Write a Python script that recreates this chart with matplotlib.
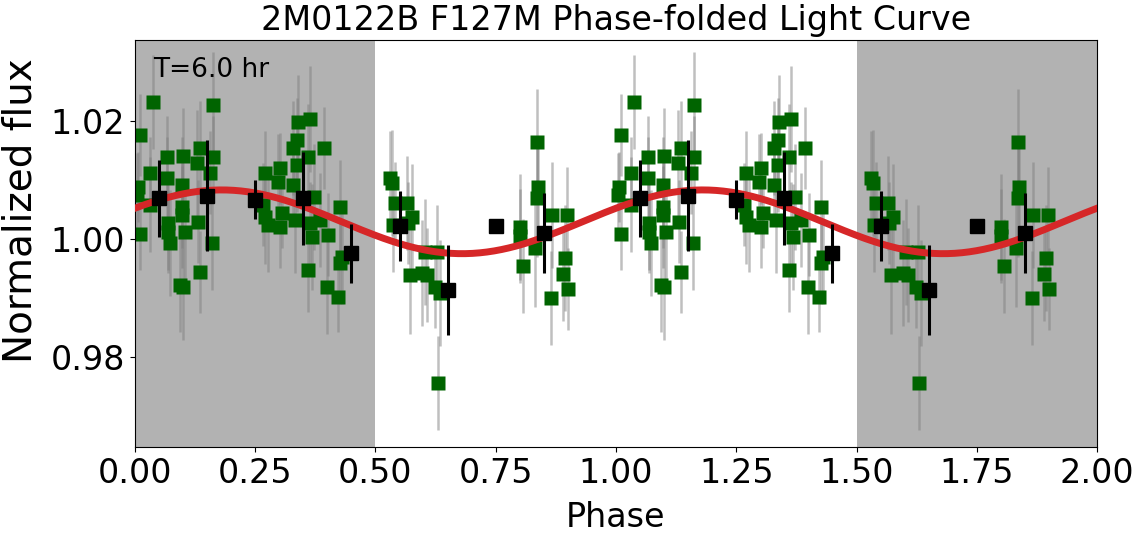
import matplotlib
matplotlib.use('Agg')
import matplotlib.pyplot as plt
import numpy as np

# unbinned points over one cycle (phase, flux, error)
phase = [
    0.037, 0.010, 0.162, 0.066, 0.100, 0.135, 0.162, 0.129, 0.031, 0.066,
    0.098, 0.156, 0.006, 0.004, 0.031, 0.098, 0.098, 0.069, 0.131, 0.104,
    0.069, 0.010, 0.073, 0.160, 0.135, 0.094, 0.100,
    0.339, 0.364, 0.337, 0.328, 0.393, 0.360, 0.337, 0.270, 0.301, 0.297,
    0.328, 0.372, 0.426, 0.266, 0.270, 0.306, 0.301, 0.276, 0.333, 0.364,
    0.385, 0.401, 0.368, 0.426, 0.430, 0.360, 0.399, 0.422,
    0.530, 0.534, 0.541, 0.565, 0.576, 0.536, 0.568, 0.603, 0.628, 0.572,
    0.597, 0.607, 0.624, 0.634, 0.630,
    0.836, 0.838, 0.836, 0.800, 0.800, 0.832, 0.807, 0.867, 0.898, 0.894,
    0.890, 0.900, 0.865,
]
flux = [
    1.0232, 1.0176, 1.0227, 1.0139, 1.0141, 1.0154, 1.0139, 1.0129, 1.0112, 1.0103,
    1.0092, 1.0112, 1.0088, 1.0075, 1.0058, 1.0054, 1.0041, 1.0027, 1.0029, 1.0012,
    1.0012, 1.0008, 0.9993, 0.9993, 0.9944, 0.9922, 0.9919,
    1.0198, 1.0203, 1.0168, 1.0154, 1.0154, 1.0139, 1.0125, 1.0112, 1.0120, 1.0097,
    1.0092, 1.0071, 1.0054, 1.0058, 1.0037, 1.0044, 1.0020, 1.0024, 1.0032, 1.0027,
    1.0032, 1.0007, 1.0003, 0.9959, 0.9969, 0.9947, 0.9919, 0.9902,
    1.0103, 1.0095, 1.0061, 1.0061, 1.0037, 1.0024, 1.0027, 0.9978, 0.9978, 0.9939,
    0.9942, 0.9939, 0.9919, 0.9908, 0.9756,
    1.0164, 1.0088, 1.0069, 1.0020, 1.0005, 0.9985, 0.9954, 1.0041, 1.0041, 0.9968,
    0.9941, 0.9915, 0.9900,
]
flux_err = [
    0.008, 0.007, 0.009, 0.007, 0.008, 0.008, 0.007, 0.009, 0.006, 0.007,
    0.008, 0.007, 0.006, 0.007, 0.008, 0.007, 0.009, 0.008, 0.007, 0.008,
    0.007, 0.006, 0.009, 0.008, 0.007, 0.008, 0.009,
    0.008, 0.009, 0.007, 0.008, 0.007, 0.009, 0.008, 0.007, 0.006, 0.008,
    0.007, 0.009, 0.008, 0.007, 0.008, 0.006, 0.007, 0.008, 0.009, 0.007,
    0.008, 0.007, 0.009, 0.007, 0.008, 0.007, 0.008, 0.006,
    0.008, 0.009, 0.007, 0.008, 0.009, 0.008, 0.007, 0.009, 0.008, 0.010,
    0.009, 0.008, 0.007, 0.009, 0.008,
    0.009, 0.008, 0.010, 0.009, 0.008, 0.010, 0.008, 0.009, 0.008, 0.009,
    0.008, 0.007, 0.008,
]

# binned points
bin_phase = [0.05, 0.15, 0.25, 0.35, 0.45, 0.55, 0.65, 0.75, 0.85]
bin_flux = [1.0069, 1.0073, 1.0066, 1.0069, 0.9976, 1.0022, 0.9914, 1.0022, 1.0010]
bin_err = [0.0065, 0.0094, 0.0033, 0.0079, 0.0050, 0.0059, 0.0076, 0.0, 0.0068]

# sine model
model_mean = 1.0029
model_amp = 0.0054
model_peak = 0.18

ph = np.array(phase)
fl = np.array(flux)
fe = np.array(flux_err)
bp = np.array(bin_phase)
bf = np.array(bin_flux)
be = np.array(bin_err)

fig = plt.figure(figsize=(11.38, 5.39), dpi=100)
ax = fig.add_axes([0.1186, 0.1707, 0.8454, 0.7551])

ax.axvspan(0, 0.5, color='k', alpha=0.3, lw=0, zorder=0)
ax.axvspan(1.5, 2.0, color='k', alpha=0.3, lw=0, zorder=0)

for shift in [0, 1]:
    ax.errorbar(ph + shift, fl, yerr=fe, fmt='none', ecolor='gray', elinewidth=1.8,
                alpha=0.5, zorder=1)
    ax.plot(ph + shift, fl, 's', color='darkgreen', ms=10, mec='none', zorder=2)

xm = np.linspace(0, 2, 400)
ax.plot(xm, model_mean + model_amp * np.cos(2 * np.pi * (xm - model_peak)),
        color='#d62728', lw=5, zorder=3)

for shift in [0, 1]:
    ax.errorbar(bp + shift, bf, yerr=be, fmt='s', color='k', ms=10, elinewidth=2.2,
                zorder=4)

ax.text(0.037, 1.0275, 'T=6.0 hr', fontsize=19, va='baseline', ha='left')

ax.set_xlim(0, 2)
ax.set_ylim(0.96475, 1.0337)
ax.set_xticks([0, 0.25, 0.5, 0.75, 1.0, 1.25, 1.5, 1.75, 2.0])
ax.set_yticks([0.98, 1.00, 1.02])
ax.tick_params(labelsize=24)
ax.set_xlabel('Phase', fontsize=24, labelpad=8)
ax.set_ylabel('Normalized flux', fontsize=28)
ax.yaxis.set_label_coords(-0.099, 0.58)
ax.set_title('2M0122B F127M Phase-folded Light Curve', fontsize=24, pad=7)

fig.savefig('out.png', dpi=100)
